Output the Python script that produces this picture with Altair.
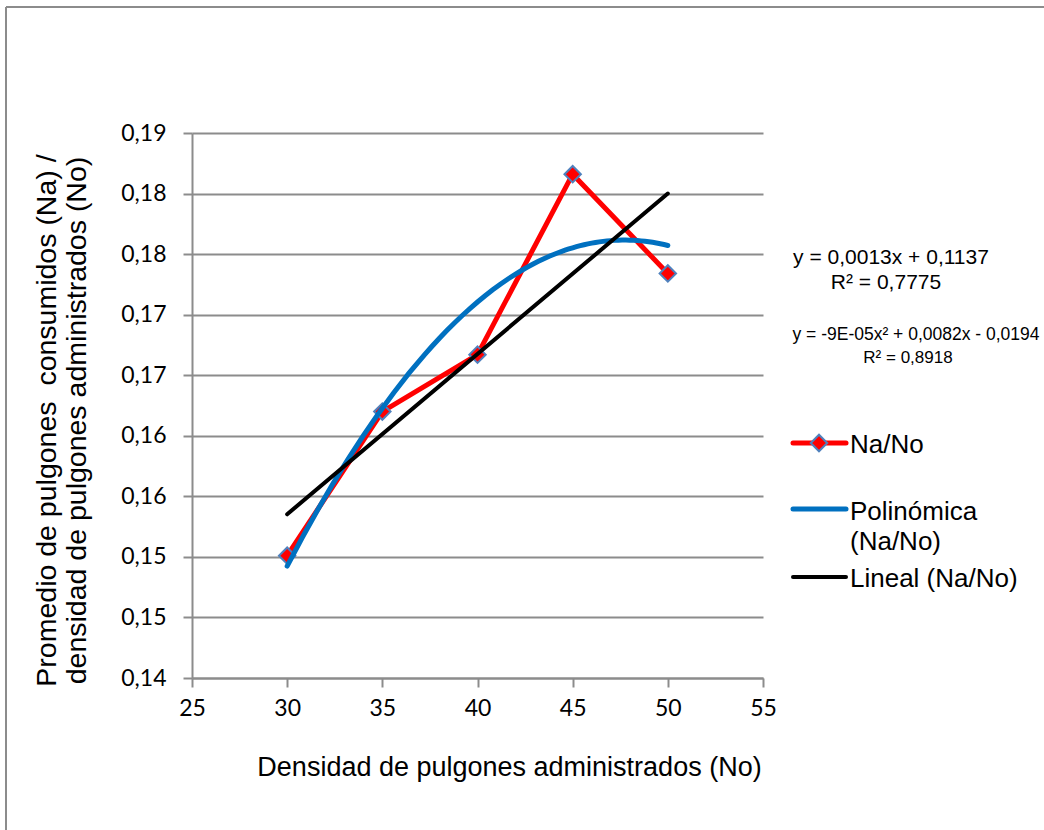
import altair as alt
import pandas as pd

# ---- data ----
densidad = [30, 35, 40, 45, 50]
na_no = [0.1501, 0.1620, 0.1667, 0.1816, 0.1734]

x_ticks = [25, 30, 35, 40, 45, 50, 55]
y_ticks = [0.14, 0.145, 0.15, 0.155, 0.16, 0.165, 0.17, 0.175, 0.18, 0.185]
y_tick_labels = ["0,14", "0,15", "0,15", "0,16", "0,16", "0,17", "0,17", "0,18", "0,18", "0,19"]

x_title = "Densidad de pulgones administrados (No)"
y_title = ["Promedio de pulgones\u00a0 consumidos (Na) /", "densidad de pulgones administrados (No)"]

legend_labels = ["Na/No", "Polinómica", "(Na/No)", "Lineal (Na/No)"]
eq_lineal = ["y = 0,0013x + 0,1137", "R² = 0,7775"]
eq_poly = ["y = -9E-05x² + 0,0082x - 0,0194", "R² = 0,8918"]

W, H = 571, 545
PAD_L, PAD_T = 192, 133
GRAY = "#8c8c8c"
RED = "#FF0000"
BLUE = "#0070C0"
MARKER_EDGE = "#4F81BD"

df = pd.DataFrame({"x": densidad, "y": na_no})

label_expr = "[" + ",".join(f"'{l}'" for l in y_tick_labels) + "][round((datum.value - 0.14) / 0.005)]"

x_enc = alt.X(
    "x:Q",
    scale=alt.Scale(domain=[25, 55], nice=False, zero=False),
    axis=alt.Axis(
        values=x_ticks, grid=False, title=x_title, labelFlush=False,
        titleX=317, titleY=97, titleBaseline="alphabetic", titleAlign="center",
        labelPadding=10,
    ),
)
y_enc = alt.Y(
    "y:Q",
    scale=alt.Scale(domain=[0.14, 0.185], nice=False, zero=False),
    axis=alt.Axis(
        values=y_ticks, grid=True, labelExpr=label_expr, title=y_title, labelFlush=False,
        titleX=-146, titleY=287, titleAngle=270, titleAlign="center",
        titleBaseline="middle", titleLineHeight=30, titleFontSize=28.5,
        labelPadding=17,
    ),
)

base = alt.Chart(df).encode(x=x_enc, y=y_enc)

serie_line = base.mark_line(color=RED, strokeWidth=5, strokeJoin="round")
serie_pts = base.mark_point(shape="diamond", filled=True, fill=RED, stroke=MARKER_EDGE,
                            strokeWidth=2, size=270, opacity=1)
poly = base.transform_regression("x", "y", method="poly", order=2).mark_line(
    color=BLUE, strokeWidth=5, strokeCap="round")
lineal = base.transform_regression("x", "y", method="linear").mark_line(
    color="black", strokeWidth=4, strokeCap="round")

one = pd.DataFrame({"k": [0]})


def txt(s, x, y, size, align="left", baseline="alphabetic"):
    return alt.Chart(one).mark_text(
        font="Liberation Sans", fontSize=size, align=align, baseline=baseline, color="black"
    ).encode(x=alt.value(x), y=alt.value(y), text=alt.value(s))


def hline(x1, x2, y, color, width):
    return alt.Chart(one).mark_rule(color=color, strokeWidth=width, strokeCap="round").encode(
        x=alt.value(x1), x2=alt.value(x2), y=alt.value(y))


# legend (custom, as in the reference)
leg_red = hline(601, 654, 310, RED, 5)
leg_pt = alt.Chart(one).mark_point(shape="diamond", filled=True, fill=RED, stroke=MARKER_EDGE,
                                   strokeWidth=2, size=270, opacity=1).encode(
    x=alt.value(627), y=alt.value(310))
leg_blue = hline(601, 654, 376, BLUE, 5)
leg_black = hline(601, 654, 444, "black", 4)
leg_t1 = txt(legend_labels[0], 658, 320, 26)
leg_t2 = txt(legend_labels[1], 658, 387, 26)
leg_t3 = txt(legend_labels[2], 658, 417, 26)
leg_t4 = txt(legend_labels[3], 658, 454, 26)

# trend line equations
e1 = txt(eq_lineal[0], 699, 125, 21, align="center", baseline="middle")
e2 = txt(eq_lineal[1], 694, 150, 21, align="center", baseline="middle")
e3 = txt(eq_poly[0], 724, 202, 17.5, align="center", baseline="middle")
e4 = txt(eq_poly[1], 716, 225, 17, align="center", baseline="middle")

# outer chart frame (left and top edges visible)
frame_v = alt.Chart(one).mark_rule(color=GRAY, strokeWidth=2).encode(
    x=alt.value(-186), y=alt.value(-126), y2=alt.value(700))
frame_h = alt.Chart(one).mark_rule(color=GRAY, strokeWidth=2).encode(
    x=alt.value(-186), x2=alt.value(860), y=alt.value(-126))

chart = alt.layer(
    serie_line, serie_pts, poly, lineal,
    leg_red, leg_pt, leg_blue, leg_black, leg_t1, leg_t2, leg_t3, leg_t4,
    e1, e2, e3, e4, frame_v, frame_h,
).properties(
    width=W, height=H,
    background="white",
    autosize=alt.AutoSizeParams(type="none"),
    padding={"left": PAD_L, "top": PAD_T, "right": 1044 - PAD_L - W, "bottom": 830 - PAD_T - H},
).configure_view(
    stroke=None
).configure_axis(
    domainColor=GRAY, domainWidth=2, tickColor=GRAY, tickWidth=2, tickSize=9,
    gridColor=GRAY, gridWidth=2, gridOpacity=1,
    labelFont="Lato", labelFontSize=23, labelColor="black",
    titleFont="Liberation Sans", titleFontSize=27, titleFontWeight="normal", titleColor="black",
)

chart.save("out.html", embed_options={"renderer": "svg", "actions": False})
